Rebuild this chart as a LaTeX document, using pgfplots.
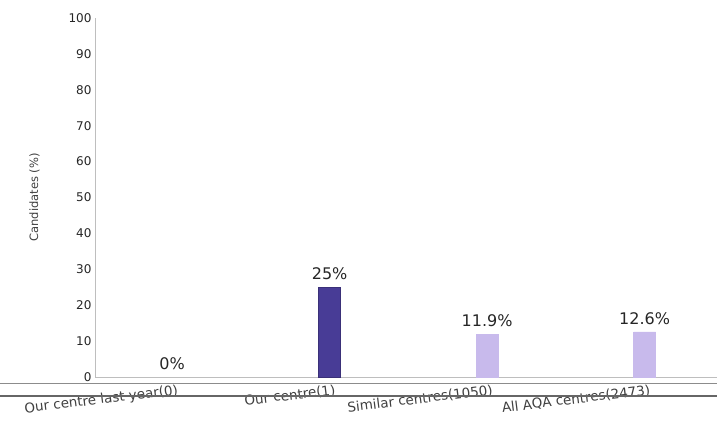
\documentclass[border=0pt]{standalone}
\usepackage{pgfplots}
\pgfplotsset{compat=1.18}
\usepackage{fontspec}
\setmainfont{DejaVu Sans}
\definecolor{darkbar}{RGB}{72,60,150}
\definecolor{lightbar}{RGB}{200,186,236}
\definecolor{axgray}{RGB}{190,190,190}
\begin{document}
\begin{tikzpicture}[x=1pt,y=1pt]
\useasboundingbox (0,0) rectangle (717,425);
\begin{axis}[
  at={(95pt,48pt)}, anchor=south west,
  scale only axis, width=622pt, height=359pt,
  xmin=-0.49, xmax=3.46, ymin=0, ymax=100,
  ytick={0,10,...,100},
  xtick={0,1,2,3},
  xticklabels={Our centre last year(0),Our centre(1),Similar centres(1050),All AQA centres(2473)},
  x tick label style={rotate=7, anchor=north east, font=\fontsize{13.5}{15}\selectfont, text=black!75, xshift=8pt, yshift=0pt},
  y tick label style={font=\fontsize{12}{14}\selectfont, text=black!85},
  /pgf/number format/assume math mode=true,
  ylabel={Candidates (\%)},
  ylabel style={font=\fontsize{11.5}{13}\selectfont, text=black!75, yshift=22pt},
  axis line style={axgray},
  axis x line*=bottom, axis y line*=left,
  tick style={draw=none},
  ybar, bar width=22pt, bar shift=0pt,
  nodes near coords,
  point meta=explicit symbolic,
  every node near coord/.append style={font=\fontsize{16}{18}\selectfont, text=black!85, yshift=4pt},
  clip=false,
]
\addplot[draw=darkbar!80!black, fill=darkbar] coordinates {(1,25) [25\%]};
\addplot[draw=lightbar, fill=lightbar] coordinates {(2,11.9) [11.9\%] (3,12.6) [12.6\%]};
\addplot[draw=none, fill=none] coordinates {(0,0) [0\%]};
\end{axis}
\draw[black!45, line width=1pt] (0,41) -- (717,41);
\draw[black!60, line width=1.2pt] (0,29) -- (717,29);
\end{tikzpicture}
\end{document}
